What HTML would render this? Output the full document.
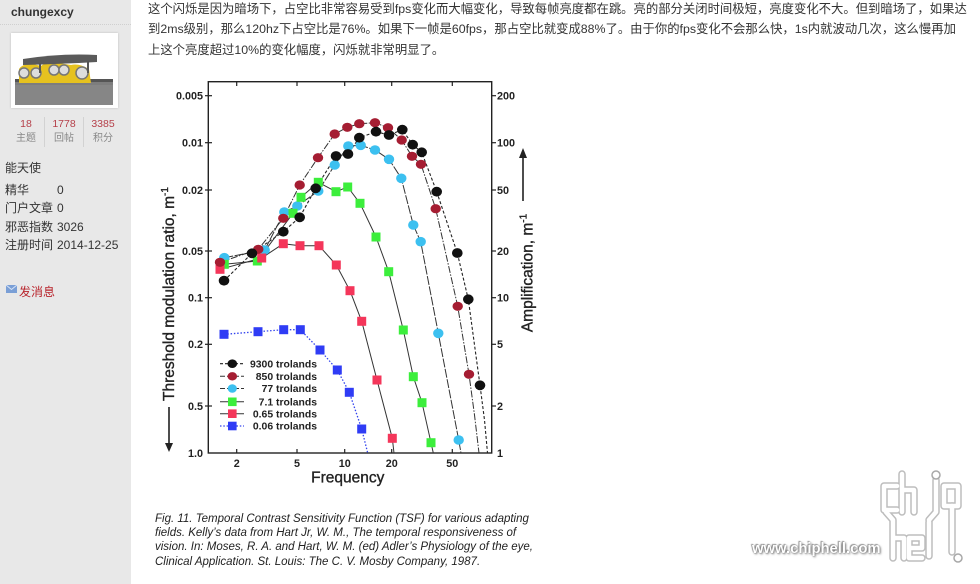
<!DOCTYPE html>
<html><head><meta charset="utf-8">
<style>
html,body{margin:0;padding:0;width:980px;height:584px;overflow:hidden;background:#fff;}
body{position:relative;font-family:"Liberation Sans","Noto Sans CJK SC",sans-serif;}
#side{position:absolute;left:0;top:0;width:131px;height:584px;background:#e8e8e8;}
.a{position:absolute;white-space:nowrap;}
.st{position:absolute;width:38px;text-align:center;white-space:nowrap;}
.sl{font-size:12px;color:#333;line-height:16px;}
</style></head><body>
<div id="side">
  <div class="a" style="left:11px;top:4px;font-size:12px;font-weight:bold;color:#333;line-height:16px">chungexcy</div>
  <div style="position:absolute;left:0;top:24px;width:131px;border-top:1px dotted #cfcfcf"></div>
  <div style="position:absolute;left:11px;top:33px;width:107px;height:75px;background:#fff;box-shadow:0 0 2px #bbb;">
    <svg width="107" height="75" style="position:absolute;left:0;top:0">
      <rect x="4" y="46" width="98" height="26" fill="#7d7d7d"/>
      <rect x="4" y="46" width="98" height="3" fill="#555"/>
      <rect x="4" y="52" width="98" height="20" fill="#8c8c8c" opacity=".6"/>
      <path d="M8,36 Q12,30 22,31 L30,33 Q36,28 48,30 L60,32 Q68,30 78,36 L80,50 L8,50 Z" fill="#e6c21f"/>
      <circle cx="13" cy="40" r="5" fill="#ddd" stroke="#777" stroke-width="1.5"/>
      <circle cx="25" cy="40" r="5" fill="#ddd" stroke="#777" stroke-width="1.5"/>
      <circle cx="43" cy="37" r="5" fill="#ddd" stroke="#777" stroke-width="1.5"/>
      <circle cx="53" cy="37" r="5" fill="#ddd" stroke="#777" stroke-width="1.5"/>
      <circle cx="71" cy="40" r="6" fill="#ddd" stroke="#777" stroke-width="1.5"/>
      <path d="M12,26 Q50,20 86,22 L86,29 Q50,31 12,32 Z" fill="#5a5a5a"/>
      <rect x="28" y="30" width="2" height="10" fill="#555"/>
      <rect x="76" y="28" width="2" height="12" fill="#555"/>
    </svg>
  </div>
  <div class="st" style="left:7px;top:117px;font-size:10.5px;color:#b5404a;line-height:14px">18</div>
  <div class="st" style="left:45px;top:117px;font-size:10.5px;color:#b5404a;line-height:14px">1778</div>
  <div class="st" style="left:84px;top:117px;font-size:10.5px;color:#b5404a;line-height:14px">3385</div>
  <div class="st" style="left:7px;top:132px;font-size:10px;color:#888;line-height:14px">主题</div>
  <div class="st" style="left:45px;top:132px;font-size:10px;color:#888;line-height:14px">回帖</div>
  <div class="st" style="left:84px;top:132px;font-size:10px;color:#888;line-height:14px">积分</div>
  <div style="position:absolute;left:44px;top:117px;width:1px;height:30px;background:#d2d2d2"></div>
  <div style="position:absolute;left:83px;top:117px;width:1px;height:30px;background:#d2d2d2"></div>
  <div class="a sl" style="left:5px;top:160px">能天使</div>
  <div class="a sl" style="left:5px;top:182px">精华</div><div class="a sl" style="left:57px;top:182px">0</div>
  <div class="a sl" style="left:5px;top:200px">门户文章</div><div class="a sl" style="left:57px;top:200px">0</div>
  <div class="a sl" style="left:5px;top:219px">邪恶指数</div><div class="a sl" style="left:57px;top:219px">3026</div>
  <div class="a sl" style="left:5px;top:237px">注册时间</div><div class="a sl" style="left:57px;top:237px">2014-12-25</div>
  <svg style="position:absolute;left:6px;top:285px" width="12" height="9"><rect x="0" y="0" width="11" height="8" fill="#7a9fd6"/><path d="M0,0 L5.5,4.5 L11,0" stroke="#d8e4f6" stroke-width="1" fill="none"/></svg>
  <div class="a" style="left:19px;top:284px;font-size:12px;color:#b8242c;line-height:16px">发消息</div>
</div>

<div class="a" style="left:148px;top:-1.25px;font-size:12.35px;line-height:20.5px;color:#333;">这个闪烁是因为暗场下，占空比非常容易受到fps变化而大幅变化，导致每帧亮度都在跳。亮的部分关闭时间极短，亮度变化不大。但到暗场了，如果达<br>到2ms级别，那么120hz下占空比是76%。如果下一帧是60fps，那占空比就变成88%了。由于你的fps变化不会那么快，1s内就波动几次，这么慢再加<br>上这个亮度超过10%的变化幅度，闪烁就非常明显了。</div>

<svg style="position:absolute;left:0;top:0" width="980" height="584" font-family="Liberation Sans, sans-serif">
  <rect x="208.3" y="81.7" width="283.4" height="371.3" fill="none" stroke="#222" stroke-width="1.4"/>
  <g stroke="#222" stroke-width="1.2">
    <line x1="205" y1="95.7" x2="212" y2="95.7"/><line x1="205" y1="142.7" x2="212" y2="142.7"/>
    <line x1="205" y1="190" x2="212" y2="190"/><line x1="205" y1="251" x2="212" y2="251"/>
    <line x1="205" y1="297.7" x2="212" y2="297.7"/><line x1="205" y1="344.3" x2="212" y2="344.3"/>
    <line x1="205" y1="406" x2="212" y2="406"/>
    <line x1="492" y1="95.7" x2="496" y2="95.7"/><line x1="492" y1="142.7" x2="496" y2="142.7"/>
    <line x1="492" y1="190" x2="496" y2="190"/><line x1="492" y1="251" x2="496" y2="251"/>
    <line x1="492" y1="297.7" x2="496" y2="297.7"/><line x1="492" y1="344.3" x2="496" y2="344.3"/>
    <line x1="492" y1="406" x2="496" y2="406"/>
    <line x1="236.7" y1="82" x2="236.7" y2="86"/><line x1="297" y1="82" x2="297" y2="86"/>
    <line x1="344.7" y1="82" x2="344.7" y2="86"/><line x1="391.7" y1="82" x2="391.7" y2="86"/>
    <line x1="452.3" y1="82" x2="452.3" y2="86"/>
    <line x1="236.7" y1="449" x2="236.7" y2="453"/><line x1="297" y1="449" x2="297" y2="453"/>
    <line x1="344.7" y1="449" x2="344.7" y2="453"/><line x1="391.7" y1="449" x2="391.7" y2="453"/>
    <line x1="452.3" y1="449" x2="452.3" y2="453"/>
  </g>
  <g font-size="10.8" font-weight="bold" fill="#222" text-anchor="end">
    <text x="203" y="95.7" dy=".36em">0.005</text>
    <text x="203" y="142.7" dy=".36em">0.01</text>
    <text x="203" y="190" dy=".36em">0.02</text>
    <text x="203" y="251" dy=".36em">0.05</text>
    <text x="203" y="297.7" dy=".36em">0.1</text>
    <text x="203" y="344.3" dy=".36em">0.2</text>
    <text x="203" y="406" dy=".36em">0.5</text>
    <text x="203" y="453" dy=".36em">1.0</text>
  </g>
  <g font-size="10.8" font-weight="bold" fill="#222" text-anchor="start">
    <text x="497" y="95.7" dy=".36em">200</text>
    <text x="497" y="142.7" dy=".36em">100</text>
    <text x="497" y="190" dy=".36em">50</text>
    <text x="497" y="251" dy=".36em">20</text>
    <text x="497" y="297.7" dy=".36em">10</text>
    <text x="497" y="344.3" dy=".36em">5</text>
    <text x="497" y="406" dy=".36em">2</text>
    <text x="497" y="453" dy=".36em">1</text>
  </g>
  <g font-size="10.8" font-weight="bold" fill="#222" text-anchor="middle">
    <text x="236.7" y="463" dy=".36em">2</text>
    <text x="297" y="463" dy=".36em">5</text>
    <text x="344.7" y="463" dy=".36em">10</text>
    <text x="391.7" y="463" dy=".36em">20</text>
    <text x="452.3" y="463" dy=".36em">50</text>
  </g>
  <text x="347.8" y="476.7" dy=".36em" font-size="15.5" fill="#222" stroke="#222" stroke-width="0.35" text-anchor="middle">Frequency</text>
  <text x="168.5" y="294" dy=".36em" font-size="15.5" fill="#222" stroke="#222" stroke-width="0.35" text-anchor="middle" transform="rotate(-90 168.5 294)">Threshold modulation ratio, m<tspan font-size="10" dy="-6">-1</tspan></text>
  <text x="527" y="273" dy=".36em" font-size="15.5" fill="#222" stroke="#222" stroke-width="0.35" text-anchor="middle" transform="rotate(-90 527 273)">Amplification, m<tspan font-size="10" dy="-6">-1</tspan></text>
  <line x1="169" y1="407" x2="169" y2="446" stroke="#222" stroke-width="1.6"/>
  <polygon points="165,443 173,443 169,452" fill="#222"/>
  <line x1="523" y1="201" x2="523" y2="156" stroke="#222" stroke-width="1.6"/>
  <polygon points="519,158 527,158 523,148" fill="#222"/>

  <g fill="none" stroke-linejoin="round">
    <polyline stroke="#222" stroke-width="1.1" stroke-dasharray="3,2" points="224,280.7 252,253.3 283.3,231.7 299.7,217.3 315.7,188.3 336,156 348,154 359.3,137.7 376,131.7 389,135 402.3,129.7 412.7,144.7 421.7,152.3 436.7,191.7 457.3,253 468.3,299.3 480,385.3 484.5,420 487.5,453"/>
    <polyline stroke="#333" stroke-width="1" stroke-dasharray="7,1.5,1.5,1.5" points="220,262.3 258.3,249.3 283.3,218.3 299.7,185 318,157.7 334.7,134 347.3,127.3 359.3,123.7 375,122.7 388,127.7 401.7,140 412,156.3 421,164.3 435.7,208.7 457.7,306.3 469,374.3 474.5,415 479,453"/>
    <polyline stroke="#333" stroke-width="1" stroke-dasharray="9,1.5" points="224.3,257.7 264.7,250 284.3,212 297.3,206 318.3,191 334.7,165 348.3,146 360.7,145.3 375,150 389,159.3 401.3,178.3 413.3,225 420.7,241.7 438.3,333.3 458.7,440 461,453"/>
    <polyline stroke="#333" stroke-width="1" points="224.3,264.3 257.3,261 293,213.3 301,197.3 318.3,182.3 336,191.7 347.7,187 360,203.3 376,237 388.7,271.7 403.3,330 413.3,376.7 422,402.7 431,442.7 433.3,453"/>
    <polyline stroke="#333" stroke-width="1" points="220,269.3 261.7,258 283.3,243.7 300,245.7 319,245.7 336.3,265 350,290.7 361.7,321.3 377,380 392.3,438.3 394,453"/>
    <polyline stroke="#3344ee" stroke-width="1.3" stroke-dasharray="1.5,1.8" points="224,334.3 258,331.7 283.7,329.7 300.3,329.7 320,350 337.3,370 349.3,392.3 361.7,429 367.7,453"/>
  </g>
  <g fill="#3cc0f0">
    <ellipse cx="224.3" cy="257.7" rx="5.2" ry="4.8"/><ellipse cx="264.7" cy="250" rx="5.2" ry="4.8"/><ellipse cx="284.3" cy="212" rx="5.2" ry="4.8"/><ellipse cx="297.3" cy="206" rx="5.2" ry="4.8"/><ellipse cx="318.3" cy="191" rx="5.2" ry="4.8"/><ellipse cx="334.7" cy="165" rx="5.2" ry="4.8"/><ellipse cx="348.3" cy="146" rx="5.2" ry="4.8"/><ellipse cx="360.7" cy="145.3" rx="5.2" ry="4.8"/><ellipse cx="375" cy="150" rx="5.2" ry="4.8"/><ellipse cx="389" cy="159.3" rx="5.2" ry="4.8"/><ellipse cx="401.3" cy="178.3" rx="5.2" ry="4.8"/><ellipse cx="413.3" cy="225" rx="5.2" ry="4.8"/><ellipse cx="420.7" cy="241.7" rx="5.2" ry="4.8"/><ellipse cx="438.3" cy="333.3" rx="5.2" ry="4.8"/><ellipse cx="458.7" cy="440" rx="5.2" ry="4.8"/>
  </g>
  <g fill="#3cee3c">
    <rect x="219.8" y="259.8" width="9" height="9"/><rect x="252.8" y="256.5" width="9" height="9"/><rect x="288.5" y="208.8" width="9" height="9"/><rect x="296.5" y="192.8" width="9" height="9"/><rect x="313.8" y="177.8" width="9" height="9"/><rect x="331.5" y="187.2" width="9" height="9"/><rect x="343.2" y="182.5" width="9" height="9"/><rect x="355.5" y="198.8" width="9" height="9"/><rect x="371.5" y="232.5" width="9" height="9"/><rect x="384.2" y="267.2" width="9" height="9"/><rect x="398.8" y="325.5" width="9" height="9"/><rect x="408.8" y="372.2" width="9" height="9"/><rect x="417.5" y="398.2" width="9" height="9"/><rect x="426.5" y="438.2" width="9" height="9"/>
  </g>
  <g fill="#f4365a">
    <rect x="215.5" y="264.8" width="9" height="9"/><rect x="257.2" y="253.5" width="9" height="9"/><rect x="278.8" y="239.2" width="9" height="9"/><rect x="295.5" y="241.2" width="9" height="9"/><rect x="314.5" y="241.2" width="9" height="9"/><rect x="331.8" y="260.5" width="9" height="9"/><rect x="345.5" y="286.2" width="9" height="9"/><rect x="357.2" y="316.8" width="9" height="9"/><rect x="372.5" y="375.5" width="9" height="9"/><rect x="387.8" y="433.8" width="9" height="9"/>
  </g>
  <g fill="#a51d32">
    <ellipse cx="220" cy="262.3" rx="5.2" ry="4.6"/><ellipse cx="258.3" cy="249.3" rx="5.2" ry="4.6"/><ellipse cx="283.3" cy="218.3" rx="5.2" ry="4.6"/><ellipse cx="299.7" cy="185" rx="5.2" ry="4.6"/><ellipse cx="318" cy="157.7" rx="5.2" ry="4.6"/><ellipse cx="334.7" cy="134" rx="5.2" ry="4.6"/><ellipse cx="347.3" cy="127.3" rx="5.2" ry="4.6"/><ellipse cx="359.3" cy="123.7" rx="5.2" ry="4.6"/><ellipse cx="375" cy="122.7" rx="5.2" ry="4.6"/><ellipse cx="388" cy="127.7" rx="5.2" ry="4.6"/><ellipse cx="401.7" cy="140" rx="5.2" ry="4.6"/><ellipse cx="412" cy="156.3" rx="5.2" ry="4.6"/><ellipse cx="421" cy="164.3" rx="5.2" ry="4.6"/><ellipse cx="435.7" cy="208.7" rx="5.2" ry="4.6"/><ellipse cx="457.7" cy="306.3" rx="5.2" ry="4.6"/><ellipse cx="469" cy="374.3" rx="5.2" ry="4.6"/>
  </g>
  <g fill="#111">
    <ellipse cx="224" cy="280.7" rx="5.3" ry="4.9"/><ellipse cx="252" cy="253.3" rx="5.3" ry="4.9"/><ellipse cx="283.3" cy="231.7" rx="5.3" ry="4.9"/><ellipse cx="299.7" cy="217.3" rx="5.3" ry="4.9"/><ellipse cx="315.7" cy="188.3" rx="5.3" ry="4.9"/><ellipse cx="336" cy="156" rx="5.3" ry="4.9"/><ellipse cx="348" cy="154" rx="5.3" ry="4.9"/><ellipse cx="359.3" cy="137.7" rx="5.3" ry="4.9"/><ellipse cx="376" cy="131.7" rx="5.3" ry="4.9"/><ellipse cx="389" cy="135" rx="5.3" ry="4.9"/><ellipse cx="402.3" cy="129.7" rx="5.3" ry="4.9"/><ellipse cx="412.7" cy="144.7" rx="5.3" ry="4.9"/><ellipse cx="421.7" cy="152.3" rx="5.3" ry="4.9"/><ellipse cx="436.7" cy="191.7" rx="5.3" ry="4.9"/><ellipse cx="457.3" cy="253" rx="5.3" ry="4.9"/><ellipse cx="468.3" cy="299.3" rx="5.3" ry="4.9"/><ellipse cx="480" cy="385.3" rx="5.3" ry="4.9"/>
  </g>
  <g fill="#2f3cf5">
    <rect x="219.5" y="329.8" width="9" height="9"/><rect x="253.5" y="327.2" width="9" height="9"/><rect x="279.2" y="325.2" width="9" height="9"/><rect x="295.8" y="325.2" width="9" height="9"/><rect x="315.5" y="345.5" width="9" height="9"/><rect x="332.8" y="365.5" width="9" height="9"/><rect x="344.8" y="387.8" width="9" height="9"/><rect x="357.2" y="424.5" width="9" height="9"/>
  </g>

  <g fill="none">
    <line x1="220" y1="363.7" x2="244" y2="363.7" stroke="#222" stroke-width="1.1" stroke-dasharray="3,2"/>
    <line x1="220" y1="376.3" x2="244" y2="376.3" stroke="#333" stroke-width="1" stroke-dasharray="5,2"/>
    <line x1="220" y1="388.5" x2="244" y2="388.5" stroke="#333" stroke-width="1" stroke-dasharray="5,2"/>
    <line x1="220" y1="401.8" x2="244" y2="401.8" stroke="#333" stroke-width="1"/>
    <line x1="220" y1="413.7" x2="244" y2="413.7" stroke="#333" stroke-width="1"/>
    <line x1="220" y1="426" x2="244" y2="426" stroke="#3344ee" stroke-width="1.3" stroke-dasharray="1.5,1.8"/>
  </g>
  <ellipse cx="232.3" cy="363.7" rx="4.8" ry="4.3" fill="#111"/>
  <ellipse cx="232.3" cy="376.3" rx="4.8" ry="4.2" fill="#a51d32"/>
  <ellipse cx="232.3" cy="388.5" rx="4.6" ry="4.3" fill="#3cc0f0"/>
  <rect x="228" y="397.5" width="8.6" height="8.6" fill="#3cee3c"/>
  <rect x="228" y="409.4" width="8.6" height="8.6" fill="#f4365a"/>
  <rect x="228" y="421.7" width="8.6" height="8.6" fill="#2f3cf5"/>
  <g font-size="10.4" font-weight="bold" fill="#222" text-anchor="end">
    <text x="317" y="363.7" dy=".36em">9300 trolands</text>
    <text x="317" y="376.3" dy=".36em">850 trolands</text>
    <text x="317" y="388.5" dy=".36em">77 trolands</text>
    <text x="317" y="401.8" dy=".36em">7.1 trolands</text>
    <text x="317" y="413.7" dy=".36em">0.65 trolands</text>
    <text x="317" y="426" dy=".36em">0.06 trolands</text>
  </g>

  <g fill="none" stroke-linecap="round" stroke-linejoin="round">
    <g stroke="#a8a8a8" stroke-width="7.5" opacity=".75">
      <path d="M897,486 H884 V510 H897"/>
      <path d="M902,474 V512 M902,490 H914 V512"/>
      <path d="M886,512 L893,520 V558 M893,538 H904 V558"/>
      <path d="M909,548 H922 V538 H909 V558 H922"/>
      <path d="M929,522 V556"/>
      <path d="M936,480 V512 L929,520"/>
      <path d="M944,486 V506 H958 V486 H944"/>
      <path d="M952,506 V552"/>
    </g>
    <g stroke="#fff" stroke-width="4.5">
      <path d="M897,486 H884 V510 H897"/>
      <path d="M902,474 V512 M902,490 H914 V512"/>
      <path d="M886,512 L893,520 V558 M893,538 H904 V558"/>
      <path d="M909,548 H922 V538 H909 V558 H922"/>
      <path d="M929,522 V556"/>
      <path d="M936,480 V512 L929,520"/>
      <path d="M944,486 V506 H958 V486 H944"/>
      <path d="M952,506 V552"/>
    </g>
  </g>
  <circle cx="936" cy="475" r="4" fill="#fff" stroke="#a8a8a8" stroke-width="1.5"/>
  <circle cx="958" cy="558" r="4" fill="#fff" stroke="#a8a8a8" stroke-width="1.5"/>
</svg>

<div class="a" style="left:752px;top:540px;font-size:14.8px;font-weight:bold;color:#fff;line-height:18px;text-shadow:0 0 1px #666,1px 1px 2px #777,-1px -1px 1px #999;">www.chiphell.com</div>

<div class="a" style="left:155px;top:512px;font-size:11.5px;line-height:14.2px;font-style:italic;color:#222;">Fig. 11. Temporal Contrast Sensitivity Function (TSF) for various adapting<br>fields. Kelly’s data from Hart Jr, W. M., The temporal responsiveness of<br>vision. In: Moses, R. A. and Hart, W. M. (ed) Adler’s Physiology of the eye,<br>Clinical Application. St. Louis: The C. V. Mosby Company, 1987.</div>
</body></html>
